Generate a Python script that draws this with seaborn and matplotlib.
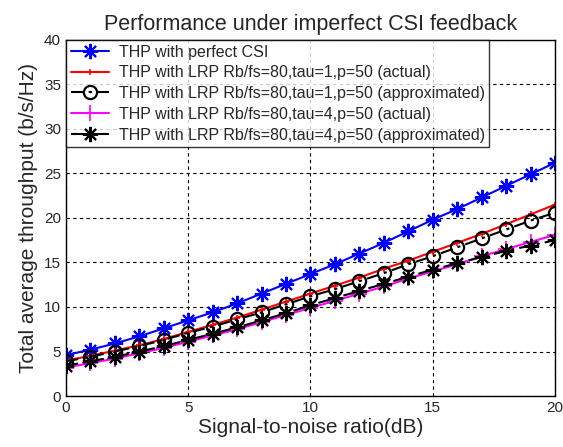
import matplotlib
matplotlib.use('Agg')
import matplotlib.pyplot as plt
import numpy as np
import seaborn as sns

snr_db = list(range(21))

perfect_csi = [4.6, 5.2, 5.9, 6.7, 7.6, 8.5, 9.4, 10.4, 11.5, 12.6, 13.7,
               14.8, 16.0, 17.2, 18.5, 19.8, 21.0, 22.3, 23.6, 24.9, 26.2]
tau1_actual = [4.0, 4.5, 5.1, 5.7, 6.4, 7.2, 8.0, 8.8, 9.7, 10.6, 11.5,
               12.4, 13.3, 14.3, 15.2, 16.2, 17.2, 18.2, 19.3, 20.4, 21.5]
tau1_approx = [3.9, 4.4, 5.0, 5.6, 6.3, 7.1, 7.8, 8.6, 9.4, 10.3, 11.2,
               12.0, 12.9, 13.8, 14.8, 15.7, 16.7, 17.7, 18.7, 19.7, 20.6]
tau4_actual = [3.2, 3.7, 4.2, 4.8, 5.4, 6.1, 6.8, 7.5, 8.3, 9.1, 9.9,
               10.7, 11.5, 12.3, 13.2, 14.0, 14.8, 15.7, 16.5, 17.3, 18.1]
tau4_approx = [3.4, 3.9, 4.4, 5.0, 5.6, 6.3, 7.0, 7.7, 8.5, 9.3, 10.2,
               11.0, 11.8, 12.6, 13.4, 14.2, 14.9, 15.6, 16.3, 16.9, 17.5]

labels = [
    'THP with perfect CSI',
    'THP with LRP Rb/fs=80,tau=1,p=50 (actual)',
    'THP with LRP Rb/fs=80,tau=1,p=50 (approximated)',
    'THP with LRP Rb/fs=80,tau=4,p=50 (actual)',
    'THP with LRP Rb/fs=80,tau=4,p=50 (approximated)',
]

sns.set_style('white')
plt.rcParams['font.family'] = ['Liberation Sans', 'DejaVu Sans']

fig = plt.figure(figsize=(5.63, 4.47), dpi=100)
ax = fig.add_axes([0.117, 0.114, 0.869, 0.797])

asterisk = (8, 2, 0)
dashdot = (0, (6, 2.5, 1.5, 2.5))
styles = [
    dict(color='blue', marker=asterisk, markersize=11, linestyle='-', markeredgewidth=1.5),
    dict(color='red', marker='+', markersize=4, linestyle='-', markeredgewidth=1.2),
    dict(color='black', marker='o', markersize=9.5, linestyle=dashdot, markerfacecolor='none', markeredgewidth=1.6),
    dict(color='magenta', marker='+', markersize=11, linestyle='-', markeredgewidth=1.2),
    dict(color='black', marker=asterisk, markersize=11, linestyle=dashdot, markeredgewidth=1.5),
]
series = [perfect_csi, tau1_actual, tau1_approx, tau4_actual, tau4_approx]

for vals, lab, st in zip(series, labels, styles):
    # seaborn defaults marker edges to white, so set them explicitly
    sns.lineplot(x=snr_db, y=vals, ax=ax, label=lab, linewidth=1.5,
                 markeredgecolor=st['color'], **st)

ax.set_xlim(0, 20)
ax.set_ylim(0, 40)
ax.set_xticks(np.arange(0, 21, 5))
ax.set_yticks(np.arange(0, 41, 5))
ax.grid(True, color='black', linestyle=(0, (3, 3)), linewidth=0.8)
for sp in ax.spines.values():
    sp.set_color('black')
    sp.set_linewidth(1.0)
ax.tick_params(labelsize=11, direction='in', length=3, color='black')

ax.set_title('Performance under imperfect CSI feedback', fontsize=15.5, pad=7)
ax.set_xlabel('Signal-to-noise ratio(dB)', fontsize=15, labelpad=2)
ax.set_ylabel('Total average throughput (b/s/Hz)', fontsize=15, labelpad=4)

leg = ax.legend(loc='upper left', fontsize=11.5, frameon=True, fancybox=False,
                borderaxespad=0.0, handlelength=2.4, handletextpad=0.6,
                labelspacing=0.36, borderpad=0.3)
leg.get_frame().set_edgecolor('black')
leg.get_frame().set_linewidth(1.0)

fig.savefig('out.png', dpi=100, facecolor='white')
